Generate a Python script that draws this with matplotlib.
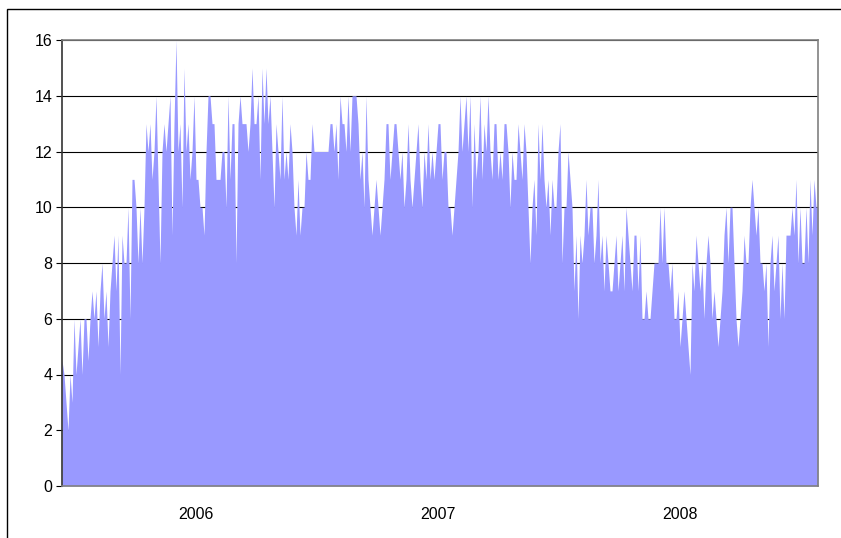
import matplotlib
matplotlib.use('Agg')
import matplotlib.pyplot as plt
import numpy as np
from matplotlib.patches import Rectangle

plt.rcParams['font.family'] = ['Liberation Sans', 'DejaVu Sans']

# daily counts (roughly one value per 2 px)
vals_a = [4.5, 4, 3, 2, 4, 3, 6, 4, 5, 6, 4, 6, 6, 4.5, 6, 7, 6, 7, 5, 7,
          8, 6, 7, 5, 7, 8, 9, 7, 9, 4, 9, 8, 8, 10, 6, 11, 11, 10, 8, 10,
          8, 10, 13, 12, 13, 11, 12, 14, 11, 8, 12, 13, 12, 13, 14, 9, 13, 16, 12, 13,
          10, 15]
vals_b = [12, 13, 11, 12, 14, 11, 11, 10, 10, 9, 12, 14, 14, 13, 13, 11, 11, 11, 12, 12,
          10, 14, 11, 13, 13, 8, 13, 14, 13, 13, 13, 12, 13, 15, 13, 13, 14, 11, 15, 13,
          15, 13, 14, 12, 10, 13, 12, 11, 14, 11, 12, 11, 13, 12, 10, 9, 11, 9, 10, 10,
          12, 11, 11, 13]
vals_c = [12, 12, 12, 12, 12, 12, 12, 12, 13, 13, 12, 13, 11, 14, 13, 13, 12, 14, 12, 14,
          14, 14, 13, 11, 12, 10, 14, 11, 10, 9, 10, 11, 10, 9, 10, 11, 13, 13, 11, 12,
          13, 13, 12, 11, 12, 10, 11, 13, 11, 10, 11, 12, 13, 11, 10, 12, 11, 13, 11, 12,
          11, 12, 13]
vals_d = [13, 11, 12, 12, 10, 10, 9, 10, 11, 12, 14, 12, 13, 14, 12, 14, 10, 13, 11, 12,
          14, 11, 13, 12, 14, 12, 11, 13, 13, 11, 12, 11, 13, 13, 12, 10, 12, 11, 11, 13,
          12, 11, 13, 12, 10, 8, 10, 11, 9, 13, 11, 13, 11, 10, 11, 9, 11, 10, 10, 12,
          13, 8, 10]
vals_e = [10, 12, 11, 10, 7, 9, 6, 9, 8, 9, 11, 9, 10, 10, 8, 9, 11, 8, 9, 7,
          9, 8, 7, 7, 8, 9, 7, 8, 9, 7, 10, 9, 8, 7, 9, 9, 7, 9, 6, 6,
          7, 6, 6, 7, 8, 8, 8, 10, 8, 10, 8, 8, 7, 8, 6, 6, 7, 5, 6, 7,
          6, 5, 4]
vals_f = [8, 7, 9, 8, 7, 8, 6, 8, 9, 8, 6, 7, 6, 5, 6, 7, 9, 10, 8, 10,
          10, 8, 6, 5, 6, 7, 9, 8, 8, 10, 11, 10, 9, 10, 8, 8, 7, 8, 5, 8,
          9, 7, 8, 9, 6, 8, 6, 9, 9, 9, 10, 9, 11, 8, 10, 8, 8, 10, 8, 11,
          9, 11, 10, 10]

values = np.array(vals_a + vals_b + vals_c + vals_d + vals_e + vals_f, dtype=float)
years = ['2006', '2007', '2008']
# where each year label sits, as a share of the time span
year_pos = [0.177, 0.497, 0.817]

x = np.arange(len(values))
n = len(values) - 1

fig = plt.figure(figsize=(8.41, 5.38), dpi=100)
ax = fig.add_axes([62 / 841, 52 / 538, 756 / 841, 446 / 538])

ax.fill_between(x, 0, values, color='#9999FF', linewidth=0, zorder=2)

ax.set_xlim(0, n)
ax.set_ylim(0, 16)
ax.set_yticks(np.arange(0, 17, 2))
ax.set_xticks([p * n for p in year_pos])
ax.set_xticklabels(years)

ax.yaxis.grid(True, color='black', linewidth=0.8, zorder=1)
ax.set_axisbelow(True)
ax.tick_params(axis='x', length=0, labelsize=11.5, pad=15)
ax.tick_params(axis='y', direction='out', length=4, width=0.8, labelsize=11.5, pad=3)

for side in ['top', 'right', 'bottom']:
    ax.spines[side].set_color('#808080')
    ax.spines[side].set_linewidth(1.2)
ax.spines['left'].set_color('#333333')
ax.spines['left'].set_linewidth(1.2)
ax.spines['bottom'].set_zorder(3)

# outer chart frame (cut off on the right and bottom)
fig.patches.append(Rectangle((7 / 841, -0.1), 2, 1.1 - 9 / 538,
                             transform=fig.transFigure, fill=False,
                             edgecolor='black', linewidth=1.0))

fig.savefig('out.png', dpi=100)
